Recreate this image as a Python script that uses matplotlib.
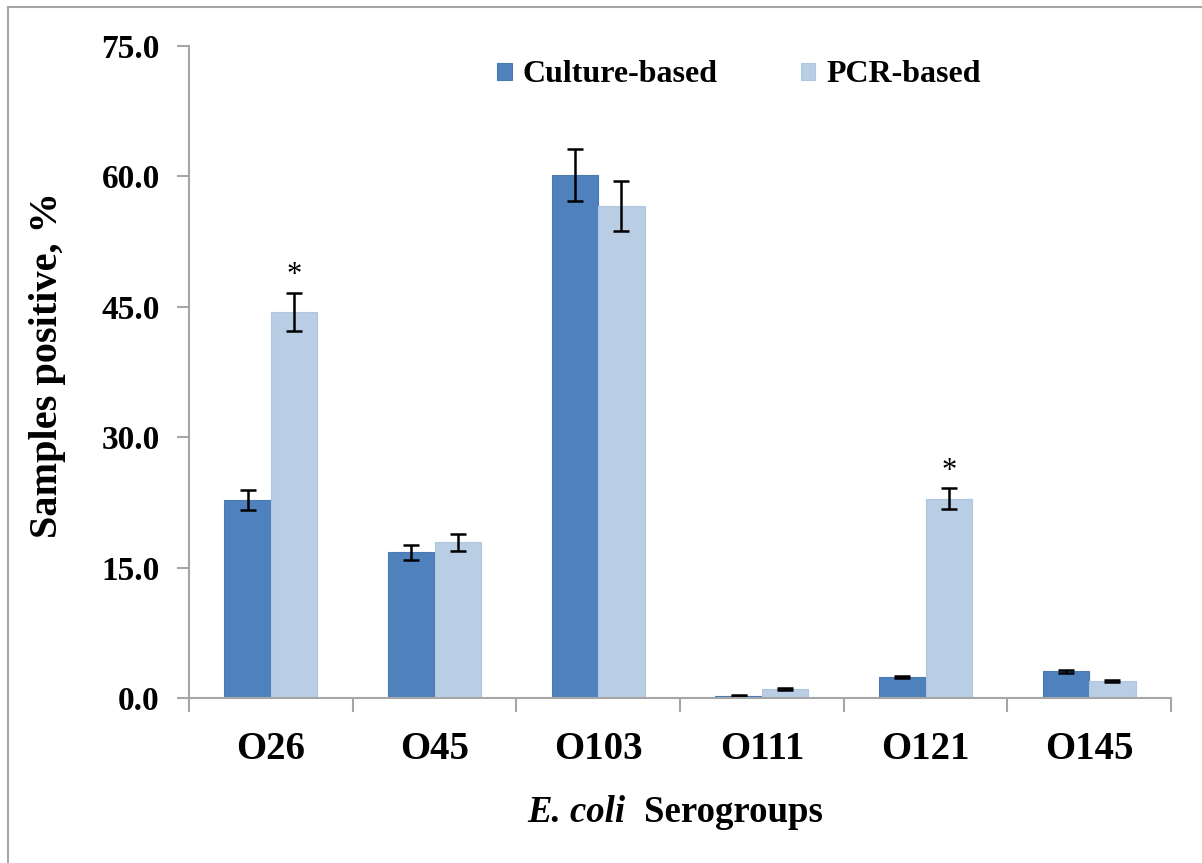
import matplotlib
matplotlib.use("Agg")
import matplotlib.pyplot as plt
import numpy as np
from matplotlib.patches import Rectangle

categories = ["O26", "O45", "O103", "O111", "O121", "O145"]
culture = [22.8, 16.75, 60.2, 0.25, 2.4, 3.05]
culture_err = [1.15, 0.85, 3.0, 0.05, 0.15, 0.2]
pcr = [44.4, 17.9, 56.6, 1.0, 22.9, 1.95]
pcr_err = [2.2, 0.95, 2.9, 0.1, 1.2, 0.12]
significant_pcr = [True, False, False, False, True, False]
yticks = [0.0, 15.0, 30.0, 45.0, 60.0, 75.0]

dark = "#4F81BD"
light = "#B9CDE5"
gray = "#A6A6A6"

plt.rcParams['font.family'] = ['Liberation Serif', 'DejaVu Serif']

fig = plt.figure(figsize=(12.02, 8.63), dpi=100)
ax = fig.add_axes([189/1202, 1-698/863, (1171-189)/1202, (698-46)/863])

x = np.arange(len(categories))
w = 0.284
ekw = dict(ecolor="black", elinewidth=1.8, capsize=5.8, capthick=1.8)
ax.bar(x - w/2, culture, w, color=dark, edgecolor="#4A7AB3", linewidth=0.8,
       yerr=culture_err, error_kw=ekw, label="Culture-based", zorder=2)
ax.bar(x + w/2, pcr, w, color=light, edgecolor="#B0C6E0", linewidth=0.8,
       yerr=pcr_err, error_kw=ekw, label="PCR-based", zorder=2)

for xi, v, e, s in zip(x, pcr, pcr_err, significant_pcr):
    if s:
        ax.text(xi + w/2, v + e + 0.3, "*", ha="center", va="bottom",
                fontsize=22, color="black")

ax.set_xlim(-0.5, len(categories) - 0.5)
ax.set_ylim(0, 75)
ax.set_yticks(yticks)
ax.set_yticklabels([f"{t:.1f}" for t in yticks], fontsize=24, fontweight="bold")
ax.set_xticks(np.arange(len(categories) + 1) - 0.5)
ax.set_xticklabels([])
ax.set_xticks(x, minor=True)
ax.set_xticklabels(categories, minor=True, fontsize=28, fontweight="bold")
ax.tick_params(axis="x", which="minor", length=0, pad=24)
ax.tick_params(axis="x", which="major", length=10, width=1.5, color=gray, direction="out")
ax.tick_params(axis="y", length=9, width=1.5, color=gray, direction="out", pad=12)

for sp in ["top", "right"]:
    ax.spines[sp].set_visible(False)
for sp in ["left", "bottom"]:
    ax.spines[sp].set_color(gray)
    ax.spines[sp].set_linewidth(1.5)

ax.set_ylabel("Samples positive, %", fontsize=29, fontweight="bold")
ax.yaxis.set_label_coords(-0.125, 0.511)

fig.text(527/1202, 1 - 812/863, "E. coli", ha="left", va="center",
         fontsize=26.5, fontweight="bold", fontstyle="italic")
fig.text(644/1202, 1 - 812/863, "Serogroups", ha="left", va="center",
         fontsize=26.5, fontweight="bold")

leg = ax.legend(loc="center", bbox_to_anchor=(739/1202, 1 - 75/863),
                bbox_transform=fig.transFigure, ncol=2, frameon=False,
                prop=dict(size=23, weight="bold"), handlelength=0.45,
                handleheight=0.45, handletextpad=0.35, columnspacing=2.6)

fig.patches.append(Rectangle((8/1202, -0.1), 1.2, 1 - 7/863 + 0.1,
                             transform=fig.transFigure, fill=False,
                             edgecolor=gray, linewidth=1.5))

fig.savefig("out.png", dpi=100)
